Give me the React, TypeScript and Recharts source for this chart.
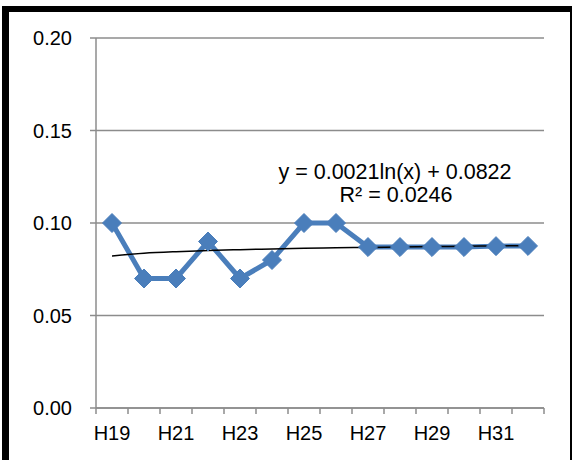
import React from "react";
import { LineChart, Line, XAxis, YAxis, CartesianGrid, Customized } from "recharts";

const categories = ["H19", "H20", "H21", "H22", "H23", "H24", "H25", "H26", "H27", "H28", "H29", "H30", "H31", "H32"];
const values = [0.1, 0.07, 0.07, 0.09, 0.07, 0.08, 0.1, 0.1, 0.087, 0.087, 0.087, 0.087, 0.0875, 0.0876];
const trendValues = [0.0822, 0.08366, 0.08451, 0.08511, 0.08558, 0.08596, 0.08629, 0.08657, 0.08681, 0.08704, 0.08724, 0.08742, 0.08759, 0.08774];
const yTicks = [0, 0.05, 0.1, 0.15, 0.2];
const equationText = "y = 0.0021ln(x) + 0.0822";
const r2Text = "R² = 0.0246";

const data = categories.map((c, i) => ({ idx: i + 1, cat: c, value: values[i], trend: trendValues[i] }));
const xTicks: number[] = [];
for (let i = 0; i <= categories.length * 2; i++) xTicks.push(0.5 + i * 0.5);

const GRAY = "#8c8c8c";
const BLUE = "#4a7ebb";
const FONT = "'Liberation Sans', Arial, sans-serif";

const XTick = (props: any) => {
  const { x, y, payload } = props;
  const v = payload.value as number;
  if (Math.abs(v % 1) > 0.01) {
    return <line x1={x} x2={x} y1={y - 32} y2={y - 26} stroke={GRAY} strokeWidth={1.5} />;
  }
  const i = Math.round(v) - 1;
  if (i % 2 !== 0) return <g />;
  return (
    <text x={x} y={y} textAnchor="middle" fontSize={20} fontFamily={FONT} fill="#000">
      {categories[i]}
    </text>
  );
};

const Diamond = (props: any) => {
  const { cx, cy, index } = props;
  const r = 9.5;
  return (
    <polygon
      key={"d" + index}
      points={`${cx},${cy - r} ${cx + r},${cy} ${cx},${cy + r} ${cx - r},${cy}`}
      fill={BLUE}
      stroke={BLUE}
      strokeWidth={1}
    />
  );
};

const Equation = () => (
  <g>
    <text x={395} y={179} textAnchor="middle" fontSize={21.5} fontFamily={FONT} fill="#000">
      {equationText}
    </text>
    <text x={396} y={202} textAnchor="middle" fontSize={21.5} fontFamily={FONT} fill="#000">
      {r2Text}
    </text>
  </g>
);

export default function App() {
  return (
    <div style={{ position: "absolute", left: 0, top: 0, width: 572, height: 460, overflow: "hidden", background: "#fff" }}>
      <div
        style={{
          position: "absolute",
          left: 2,
          top: 6,
          width: 570,
          height: 480,
          boxSizing: "border-box",
          borderLeft: "7px solid #000",
          borderTop: "6px solid #000",
          borderRight: "2px solid #000",
        }}
      />
      <div style={{ position: "absolute", left: 0, top: 0 }}>
        <LineChart width={572} height={460} data={data} margin={{ top: 38, right: 28, bottom: 0, left: 0 }}>
          <CartesianGrid vertical={false} stroke={GRAY} strokeWidth={1.5} horizontalValues={yTicks} />
          <XAxis
            dataKey="idx"
            type="number"
            domain={[0.5, 14.5]}
            ticks={xTicks}
            interval={0}
            height={52}
            tickLine={false}
            tickSize={0}
            tickMargin={32}
            axisLine={{ stroke: GRAY, strokeWidth: 1.5 }}
            tick={<XTick />}
          />
          <YAxis
            domain={[0, 0.2]}
            ticks={yTicks}
            width={96}
            tickSize={6}
            tickMargin={18}
            tickLine={{ stroke: GRAY, strokeWidth: 1.5 }}
            axisLine={{ stroke: GRAY, strokeWidth: 1.5 }}
            tickFormatter={(v: number) => v.toFixed(2)}
            tick={{ fontSize: 20, fontFamily: FONT, fill: "#000" }}
          />
          <Line
            dataKey="value"
            stroke={BLUE}
            strokeWidth={5}
            dot={Diamond}
            activeDot={false}
            isAnimationActive={false}
            type="linear"
          />
          <Line
            dataKey="trend"
            stroke="#000"
            strokeWidth={1.5}
            dot={false}
            activeDot={false}
            isAnimationActive={false}
            type="monotone"
          />
          <Customized component={Equation} />
        </LineChart>
      </div>
    </div>
  );
}
